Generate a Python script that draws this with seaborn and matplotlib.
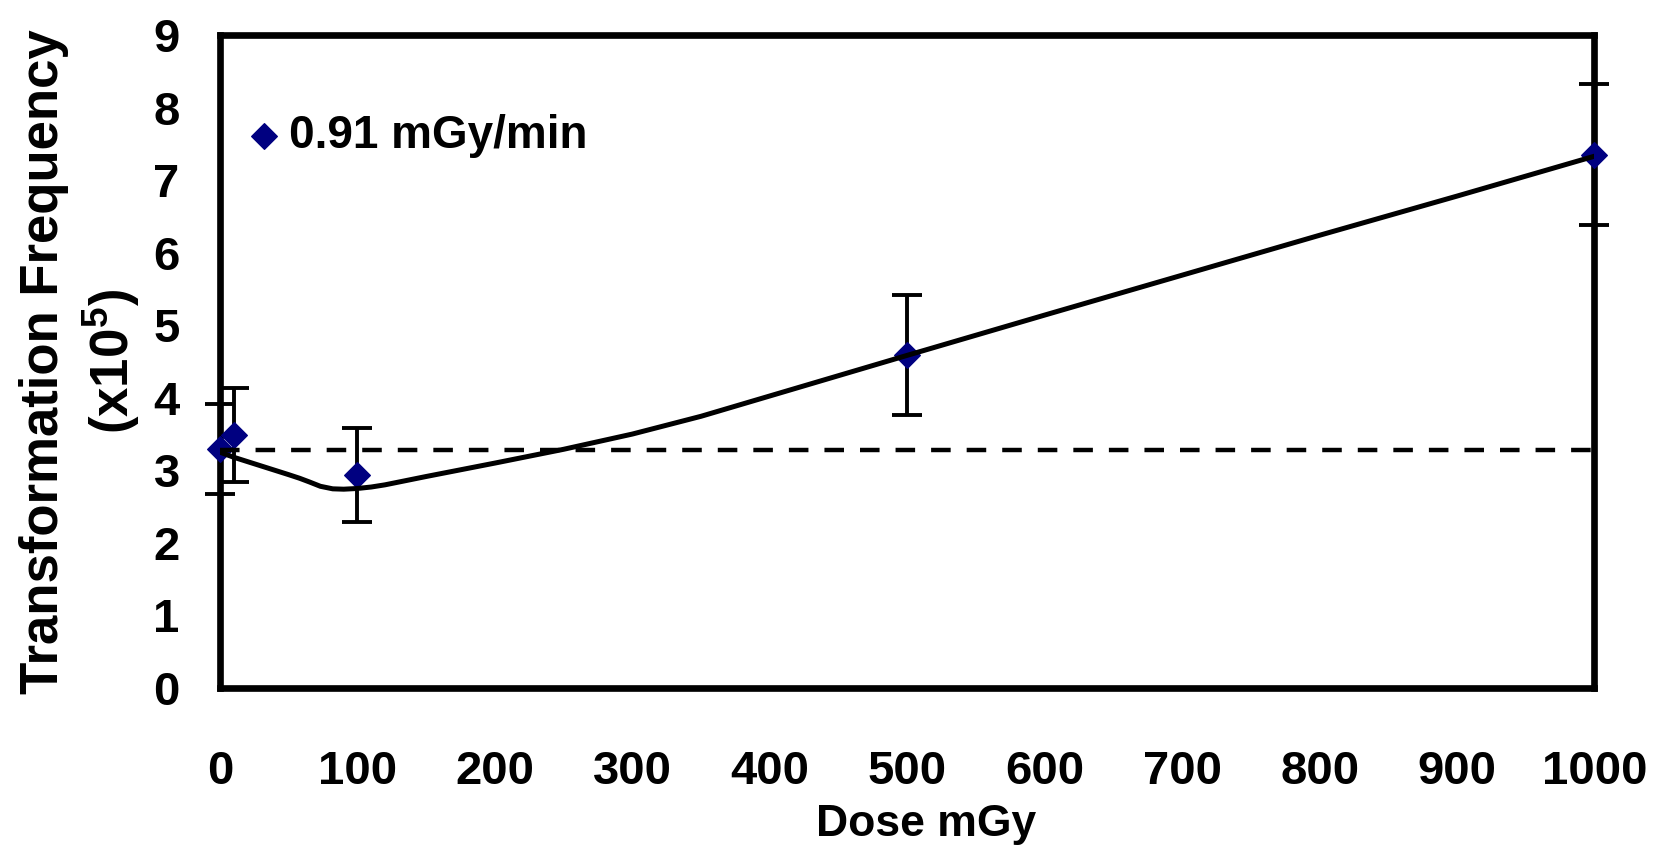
import matplotlib
matplotlib.use("Agg")
import matplotlib.pyplot as plt
import seaborn as sns
import pandas as pd

# Measured transformation frequency (x10^5) at each dose
dose = [0, 10, 100, 500, 1000]
freq = [3.30, 3.49, 2.94, 4.59, 7.35]
freq_err = [0.62, 0.65, 0.65, 0.83, 0.97]

# Fitted dose-response curve
fit_dose = [0, 10, 20, 30, 40, 50, 58, 65, 73, 82, 90, 100, 110, 120, 150,
            200, 250, 300, 350, 400, 450, 500, 600, 700, 800, 900, 1000]
fit_freq = [3.25, 3.18, 3.12, 3.06, 3.00, 2.94, 2.89, 2.84, 2.78, 2.745, 2.74,
            2.75, 2.77, 2.80, 2.915, 3.10, 3.29, 3.50, 3.745, 4.025, 4.305,
            4.585, 5.14, 5.69, 6.24, 6.78, 7.33]

# Spontaneous (control) background level
background = 3.28

x_ticks = [0, 100, 200, 300, 400, 500, 600, 700, 800, 900, 1000]
y_ticks = [0, 1, 2, 3, 4, 5, 6, 7, 8, 9]

series_label = "0.91 mGy/min"
x_title = "Dose mGy"
y_title = "Transformation Frequency\n(x10$^{5}$)"

sns.set_style("white")
plt.rcParams["font.family"] = ["Liberation Sans", "DejaVu Sans"]
plt.rcParams["font.weight"] = "bold"
plt.rcParams["mathtext.default"] = "regular"
plt.rcParams["text.color"] = "black"
plt.rcParams["axes.labelcolor"] = "black"
plt.rcParams["xtick.labelcolor"] = "black"
plt.rcParams["ytick.labelcolor"] = "black"

points = pd.DataFrame({"dose": dose, "freq": freq, "err": freq_err})
curve = pd.DataFrame({"dose": fit_dose, "freq": fit_freq})

fig = plt.figure(figsize=(16.58, 8.48), dpi=100)
ax = fig.add_axes([0.1327, 0.1887, 0.9617 - 0.1327, 0.9587 - 0.1887])

ax.errorbar(points["dose"], points["freq"], yerr=points["err"], fmt="none",
            ecolor="black", elinewidth=2.8, capsize=11, capthick=2.8,
            zorder=4, clip_on=False)

sns.scatterplot(data=points, x="dose", y="freq", marker="D", s=170,
                color="#000080", edgecolor="#000080", linewidth=1,
                label=series_label, zorder=5, clip_on=False, ax=ax)

ax.axhline(background, color="black", lw=3.2, dashes=(4.4, 3.6), zorder=6)
sns.lineplot(data=curve, x="dose", y="freq", color="black", lw=3.6,
             zorder=7, ax=ax, legend=False)

ax.set_xlim(0, 1000)
ax.set_ylim(0, 9)
ax.set_xticks(x_ticks)
ax.set_yticks(y_ticks)
ax.tick_params(axis="both", direction="out", color="#555555", width=1.1,
               labelsize=34, length=13, labelcolor="black")
ax.tick_params(axis="x", pad=32)
ax.tick_params(axis="y", pad=16)
for lab in ax.get_xticklabels() + ax.get_yticklabels():
    lab.set_fontweight("bold")

for sp in ax.spines.values():
    sp.set_visible(True)
    sp.set_linewidth(4.8)
    sp.set_color("black")
    sp.set_zorder(3)

ax.set_xlabel(x_title, fontsize=32, fontweight="bold", color="black")
ax.set_ylabel(y_title, fontsize=38, fontweight="bold", linespacing=1.25,
              ha="center", color="black")
ax.xaxis.set_label_coords(0.5137, -0.178)
ax.yaxis.set_label_coords(-0.057, 0.5)

leg = ax.legend(loc="center left", bbox_to_anchor=(0.005, 0.845),
                frameon=False, fontsize=33, handlelength=0.8,
                handletextpad=0.15, borderaxespad=0)
for t in leg.get_texts():
    t.set_fontweight("bold")
    t.set_color("black")

fig.savefig("out.png", dpi=100)
